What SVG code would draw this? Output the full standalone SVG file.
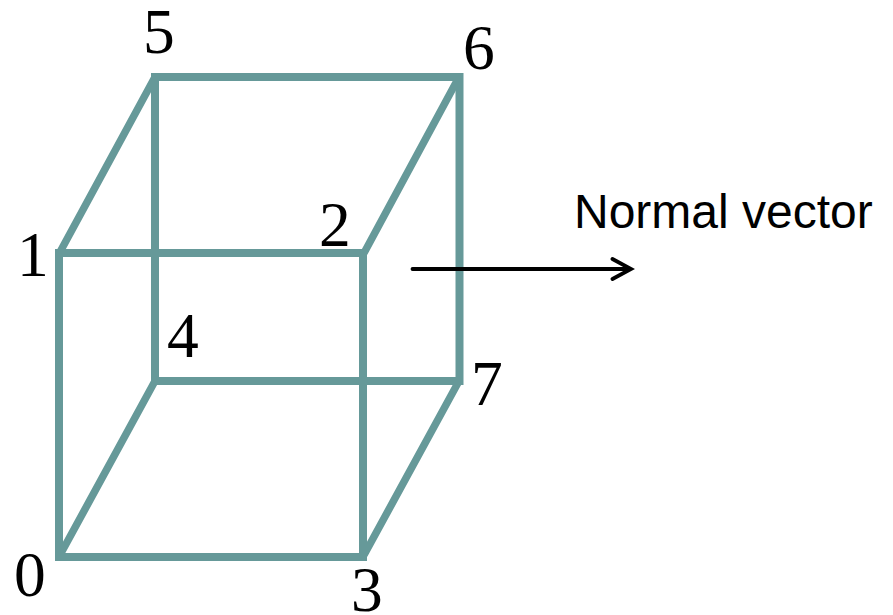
<svg xmlns="http://www.w3.org/2000/svg" width="893" height="615" viewBox="0 0 893 615">
<style>
.e{stroke:#669999;stroke-width:8;fill:none;stroke-linecap:butt;stroke-linejoin:miter}
.d{stroke:#669999;stroke-width:7.500;fill:none;stroke-linecap:butt}
.n{font-family:"Liberation Serif",serif;font-size:63.500px;fill:#000}
.l{font-family:"Liberation Sans",sans-serif;font-size:48px;fill:#000}
</style>
<rect width="893" height="615" fill="#fff"/>
<g id="connectors">
<g id="cube-edges">
<path class="d" d="M60 252L155 77M364 253L459 77M60 555L155 381M364 555L459 381"/>
<path class="e" d="M155 77H459.500V381H155Z"/>
<path class="e" d="M59 253H363V557H59Z"/>
</g>
<path id="normal-arrow" d="M412.500 269H630M612.500 259L631 269L612.500 279" fill="none" stroke="#000" stroke-width="3.800" stroke-linecap="round" stroke-linejoin="miter"/>
</g>
<g id="node-0"><text class="n" x="14" y="596">0</text></g>
<g id="node-1"><text class="n" x="17" y="276">1</text></g>
<g id="node-2"><text class="n" x="319" y="246">2</text></g>
<g id="node-3"><text class="n" x="351" y="611">3</text></g>
<g id="node-4"><text class="n" x="167" y="357">4</text></g>
<g id="node-5"><text class="n" x="143" y="53">5</text></g>
<g id="node-6"><text class="n" x="463" y="69">6</text></g>
<g id="node-7"><text class="n" x="471" y="405">7</text></g>
<g id="normal-label"><text class="l" x="574" y="228">Normal vector</text></g>
</svg>
